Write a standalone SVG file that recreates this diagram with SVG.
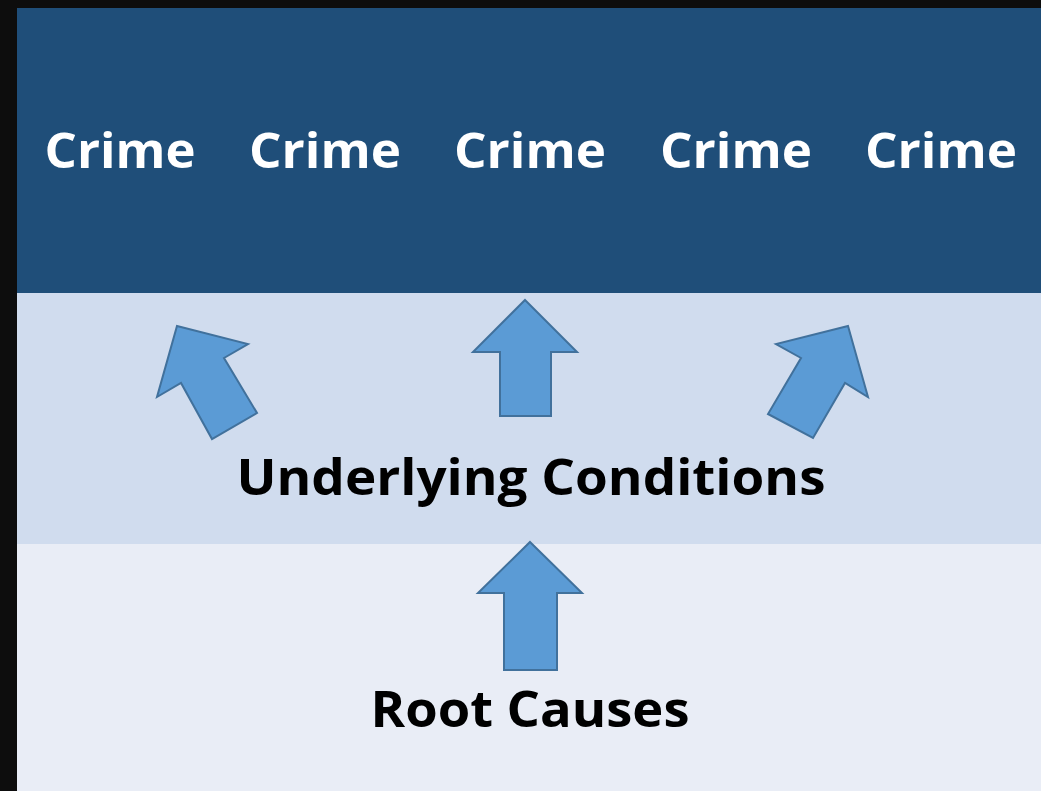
<svg xmlns="http://www.w3.org/2000/svg" width="1041" height="791" viewBox="0 0 1041 791">
<style>
.crime{font-family:"Open Sans","Noto Sans","Liberation Sans",sans-serif;font-weight:700;font-size:49px;fill:#FFFFFF;text-anchor:middle}
.lbl{font-family:"Open Sans","Noto Sans","Liberation Sans",sans-serif;font-weight:700;font-size:51px;fill:#000000;text-anchor:middle}
.arrow{fill:#5B9BD5;stroke:#41719C;stroke-width:2;stroke-linejoin:miter}
</style>
<rect x="0" y="0" width="1041" height="791" fill="#0D0D0D"/>
<g id="band-crime">
<rect x="17" y="8" width="1024" height="285" fill="#1F4E79"/>
<text class="crime" x="120" y="168" textLength="151" lengthAdjust="spacingAndGlyphs">Crime</text>
<text class="crime" x="325" y="168" textLength="152" lengthAdjust="spacingAndGlyphs">Crime</text>
<text class="crime" x="530" y="168" textLength="152" lengthAdjust="spacingAndGlyphs">Crime</text>
<text class="crime" x="736" y="168" textLength="152" lengthAdjust="spacingAndGlyphs">Crime</text>
<text class="crime" x="941" y="168" textLength="152" lengthAdjust="spacingAndGlyphs">Crime</text>
</g>
<g id="band-underlying">
<rect x="17" y="293" width="1024" height="251" fill="#D0DCEE"/>
<text class="lbl" x="531" y="495" textLength="589" lengthAdjust="spacingAndGlyphs">Underlying Conditions</text>
</g>
<g id="band-root">
<rect x="17" y="544" width="1024" height="247" fill="#E9EDF6"/>
<text class="lbl" x="530" y="727" textLength="319" lengthAdjust="spacingAndGlyphs">Root Causes</text>
</g>
<g id="connectors">
<polygon class="arrow" points="177,326 248,344 224,358 257,413 212,439 181,383 157,397"/>
<polygon class="arrow" points="525,300 577,352 551,352 551,416 500,416 500,352 473,352"/>
<polygon class="arrow" points="848,326 868,397 845,383 813,438 768,414 801,358 776,344"/>
<polygon class="arrow" points="530,542 582,593 557,593 557,670 504,670 504,593 478,593"/>
</g>
</svg>
